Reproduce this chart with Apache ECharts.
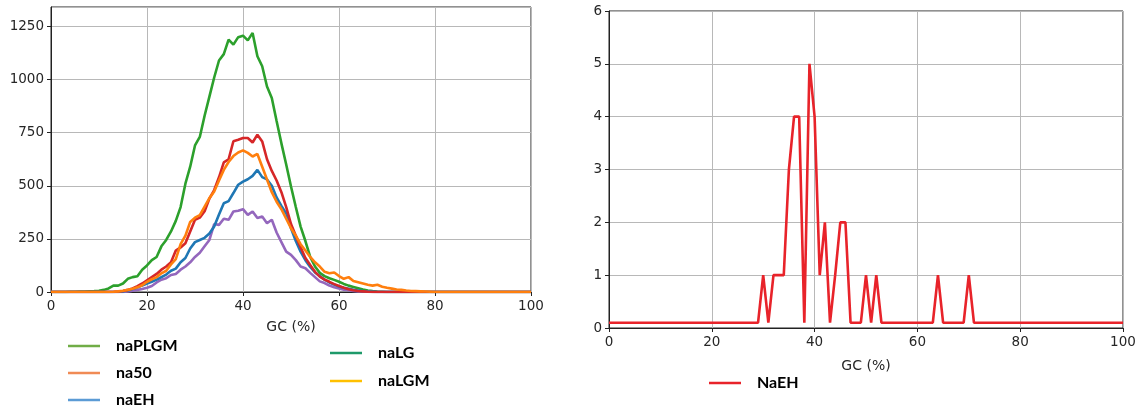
<!DOCTYPE html>
<html>
<head>
  <meta charset="utf-8">
  <title>GC content</title>
  <script src="https://cdn.jsdelivr.net/npm/echarts@6/dist/echarts.min.js"></script>
  <style>
    html, body { margin: 0; padding: 0; background: #fff; }
    #main { width: 1140px; height: 409px; }
  </style>
</head>
<body>
<div id="main"></div>
<script type="text/javascript">
// GC (%) bins, 0..100
var gc = [
  0, 1, 2, 3, 4, 5, 6, 7, 8, 9,
  10, 11, 12, 13, 14, 15, 16, 17, 18, 19,
  20, 21, 22, 23, 24, 25, 26, 27, 28, 29,
  30, 31, 32, 33, 34, 35, 36, 37, 38, 39,
  40, 41, 42, 43, 44, 45, 46, 47, 48, 49,
  50, 51, 52, 53, 54, 55, 56, 57, 58, 59,
  60, 61, 62, 63, 64, 65, 66, 67, 68, 69,
  70, 71, 72, 73, 74, 75, 76, 77, 78, 79,
  80, 81, 82, 83, 84, 85, 86, 87, 88, 89,
  90, 91, 92, 93, 94, 95, 96, 97, 98, 99,
  100
];

// left panel, counts per bin
var naPLGM = [
  0, 0, 0, 0, 1, 1, 2, 2, 3, 4,
  6, 10, 17, 30, 30, 40, 62, 70, 74, 105,
  125, 150, 165, 215, 245, 285, 335, 400, 510, 590,
  690, 730, 830, 920, 1010, 1090, 1120, 1188, 1165, 1200,
  1207, 1185, 1220, 1110, 1063, 968, 914, 805, 700, 600,
  497, 400, 308, 240, 165, 120, 90, 75, 65, 57,
  48, 38, 30, 24, 18, 12, 7, 4, 2, 1,
  0, 0, 0, 0, 0, 0, 0, 0, 0, 0,
  0, 0, 0, 0, 0, 0, 0, 0, 0, 0,
  0, 0, 0, 0, 0, 0, 0, 0, 0, 0,
  0
];
var naLGM = [
  0, 0, 0, 0, 0, 0, 0, 0, 0, 0,
  0, 0, 0, 0, 2, 5, 10, 17, 28, 40,
  55, 70, 85, 105, 120, 140, 195, 210, 230, 285,
  340, 350, 380, 440, 480, 540, 610, 625, 710, 717,
  725, 725, 704, 741, 709, 625, 570, 525, 470, 400,
  320, 265, 210, 160, 127, 95, 72, 58, 48, 37,
  28, 20, 13, 8, 5, 3, 1, 0, 0, 0,
  0, 0, 0, 0, 0, 0, 0, 0, 0, 0,
  0, 0, 0, 0, 0, 0, 0, 0, 0, 0,
  0, 0, 0, 0, 0, 0, 0, 0, 0, 0,
  0
];
var na50 = [
  0, 0, 0, 0, 0, 0, 0, 0, 0, 0,
  0, 0, 0, 1, 3, 6, 10, 15, 22, 32,
  48, 60, 70, 88, 100, 130, 155, 225, 265, 330,
  350, 362, 402, 442, 473, 525, 575, 612, 640, 657,
  667, 655, 638, 650, 590, 530, 470, 425, 390, 345,
  300, 265, 225, 195, 165, 140, 120, 95, 88, 92,
  75, 62, 70, 52, 46, 40, 34, 30, 34, 25,
  20, 16, 12, 10, 7, 5, 4, 3, 2, 1,
  0, 0, 0, 0, 0, 0, 0, 0, 0, 0,
  0, 0, 0, 0, 0, 0, 0, 0, 0, 0,
  0
];
var naEH = [
  0, 0, 0, 0, 0, 0, 0, 0, 0, 0,
  0, 0, 0, 0, 0, 3, 7, 14, 22, 30,
  40, 48, 58, 70, 82, 100, 110, 140, 160, 205,
  235, 245, 255, 275, 308, 365, 418, 428, 466, 505,
  520, 531, 547, 575, 541, 530, 500, 445, 405, 370,
  300, 240, 190, 150, 118, 92, 75, 58, 45, 35,
  26, 20, 15, 10, 7, 4, 2, 1, 0, 0,
  0, 0, 0, 0, 0, 0, 0, 0, 0, 0,
  0, 0, 0, 0, 0, 0, 0, 0, 0, 0,
  0, 0, 0, 0, 0, 0, 0, 0, 0, 0,
  0
];
var naLG = [
  0, 0, 0, 0, 0, 0, 0, 0, 0, 0,
  0, 0, 0, 0, 0, 0, 2, 6, 10, 14,
  20, 28, 45, 58, 65, 80, 85, 105, 120, 140,
  165, 185, 215, 245, 320, 316, 345, 340, 379, 383,
  390, 363, 379, 348, 355, 324, 340, 280, 235, 190,
  175, 150, 120, 112, 90, 70, 50, 42, 30, 22,
  16, 11, 8, 5, 3, 2, 1, 0, 0, 0,
  0, 0, 0, 0, 0, 0, 0, 0, 0, 0,
  0, 0, 0, 0, 0, 0, 0, 0, 0, 0,
  0, 0, 0, 0, 0, 0, 0, 0, 0, 0,
  0
];

// right panel
var NaEH = [
  0.1, 0.1, 0.1, 0.1, 0.1, 0.1, 0.1, 0.1, 0.1, 0.1,
  0.1, 0.1, 0.1, 0.1, 0.1, 0.1, 0.1, 0.1, 0.1, 0.1,
  0.1, 0.1, 0.1, 0.1, 0.1, 0.1, 0.1, 0.1, 0.1, 0.1,
  1, 0.1, 1, 1, 1, 3, 4, 4, 0.1, 5,
  4, 1, 2, 0.1, 1, 2, 2, 0.1, 0.1, 0.1,
  1, 0.1, 1, 0.1, 0.1, 0.1, 0.1, 0.1, 0.1, 0.1,
  0.1, 0.1, 0.1, 0.1, 1, 0.1, 0.1, 0.1, 0.1, 0.1,
  1, 0.1, 0.1, 0.1, 0.1, 0.1, 0.1, 0.1, 0.1, 0.1,
  0.1, 0.1, 0.1, 0.1, 0.1, 0.1, 0.1, 0.1, 0.1, 0.1,
  0.1, 0.1, 0.1, 0.1, 0.1, 0.1, 0.1, 0.1, 0.1, 0.1,
  0.1
];

// legend entries: name, icon colour, left, centre y
var legendNames = ['naPLGM', 'na50', 'naEH', 'naLG', 'naLGM', 'NaEH'];
var legendColors = ['#70ad47', '#f08b55', '#5b9bd5', '#1e9a6a', '#ffc000', '#e8232a'];
var legendLeft = [68, 68, 68, 330, 330, 709];
var legendY = [346, 373, 400, 353, 381, 383];

function pairs(ys) {
  return gc.map(function (x, i) { return [x, ys[i]]; });
}

var tickFont = { fontFamily: 'DejaVu Sans', fontSize: 13.5, color: '#262626' };
var legendFont = { fontFamily: 'Lato', fontWeight: 'bold', fontSize: 16, color: '#000', padding: [0, 0, 0, 11] };

function xAxis(idx, gap) {
  return {
    type: 'value', gridIndex: idx, min: 0, max: 100, interval: 20,
    name: 'GC (%)', nameLocation: 'middle', nameGap: gap,
    nameTextStyle: { fontFamily: 'DejaVu Sans', fontSize: 14, color: '#262626' },
    axisLine: { show: true, lineStyle: { color: '#222', width: 1 } },
    axisTick: { show: true, inside: false, length: 4, lineStyle: { color: '#222' } },
    axisLabel: Object.assign({ margin: 7 }, tickFont),
    splitLine: { show: true, lineStyle: { color: '#b8b8b8', width: 1 } }
  };
}

function yAxis(idx, max, interval) {
  return {
    type: 'value', gridIndex: idx, min: 0, max: max, interval: interval,
    axisLine: { show: true, lineStyle: { color: '#222', width: 1 } },
    axisTick: { show: true, inside: false, length: 4, lineStyle: { color: '#222' } },
    axisLabel: Object.assign({
      margin: 7, showMaxLabel: max % interval === 0,
      formatter: function (v) { return String(v); }
    }, tickFont),
    splitLine: { show: true, lineStyle: { color: '#b8b8b8', width: 1 } }
  };
}

function line(name, data, color, idx) {
  return {
    name: name, type: 'line', xAxisIndex: idx, yAxisIndex: idx,
    data: pairs(data), showSymbol: false, symbol: 'none',
    lineStyle: { color: color, width: 2.6 }, itemStyle: { color: color },
    animation: false
  };
}

var legends = legendNames.map(function (n, i) {
  return {
    orient: 'vertical', left: legendLeft[i], top: legendY[i] - 8, padding: 0,
    itemWidth: 32, itemHeight: 2.5, icon: 'rect', textStyle: legendFont,
    data: [{ name: n, itemStyle: { color: legendColors[i] } }]
  };
});

var myChart = echarts.init(document.getElementById('main'));
var option = {
  backgroundColor: '#fff',
  animation: false,
  grid: [
    { left: 51, top: 7, width: 480, height: 285, show: true, borderColor: '#222', borderWidth: 1 },
    { left: 609, top: 11, width: 514, height: 317, show: true, borderColor: '#222', borderWidth: 1 }
  ],
  xAxis: [xAxis(0, 28), xAxis(1, 31)],
  yAxis: [yAxis(0, 1342, 250), yAxis(1, 6, 1)],
  legend: legends,
  series: [
    line('naPLGM', naPLGM, '#2ca02c', 0),
    line('naLG', naLG, '#9467bd', 0),
    line('naEH', naEH, '#1f77b4', 0),
    line('naLGM', naLGM, '#d62728', 0),
    line('na50', na50, '#ff7f0e', 0),
    line('NaEH', NaEH, '#e8232a', 1)
  ]
};
myChart.setOption(option);
</script>
</body>
</html>
